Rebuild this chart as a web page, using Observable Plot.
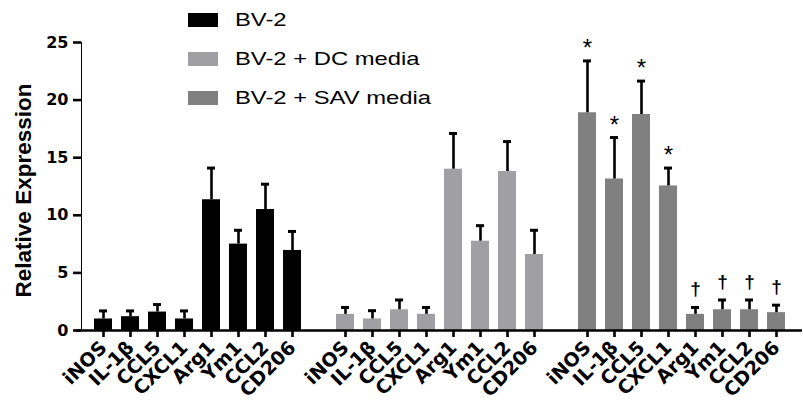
<!DOCTYPE html>
<html><head><meta charset="utf-8">
<script src="https://cdn.jsdelivr.net/npm/d3@7"></script>
<script src="https://cdn.jsdelivr.net/npm/@observablehq/plot@0.6"></script>
<style>
body{margin:0;background:#fff;}
#wrap{position:relative;width:803px;height:405px;overflow:hidden;}
.legend{position:absolute;left:188px;top:0;font-family:"Liberation Sans",Arial,sans-serif;font-size:18.6px;color:#000;}
.row{position:absolute;left:0;height:22px;white-space:nowrap;display:flex;align-items:center;}
.sw{width:30px;height:14px;display:inline-block;}
.lab{display:inline-block;margin-left:17px;transform:scaleX(1.28);transform-origin:left center;}
</style></head><body><div id="wrap"></div>
<script>
const groups = ["BV-2", "BV-2 + DC media", "BV-2 + SAV media"];
const genes = ["iNOS", "IL-1β", "CCL5", "CXCL1", "Arg1", "Ym1", "CCL2", "CD206"];
const colors = ["#000000", "#a0a0a4", "#808080"];
const meanBV2 = [1.0, 1.2, 1.6, 1.0, 11.35, 7.5, 10.5, 6.95];
const errBV2 = [0.7, 0.5, 0.65, 0.7, 2.75, 1.2, 2.2, 1.65];
const meanDC = [1.4, 1.0, 1.8, 1.4, 14.0, 7.75, 13.8, 6.6];
const errDC = [0.6, 0.72, 0.85, 0.6, 3.1, 1.35, 2.6, 2.1];
const meanSAV = [18.9, 13.15, 18.75, 12.55, 1.4, 1.8, 1.8, 1.55];
const errSAV = [4.5, 3.6, 2.9, 1.55, 0.6, 0.85, 0.85, 0.65];
const sigSAV = ["*", "*", "*", "*", "†", "†", "†", "†"];
const yTicks = [0, 5, 10, 15, 20, 25];
const yTitle = "Relative Expression";

const means = [meanBV2, meanDC, meanSAV];
const errs = [errBV2, errDC, errSAV];
const rows = [];
groups.forEach((g, gi) => genes.forEach((gene, i) => {
  rows.push({group: g, gene, mean: means[gi][i], err: errs[gi][i], top: means[gi][i] + errs[gi][i],
    sig: gi === 2 ? sigSAV[i] : ""});
}));
const stars = rows.filter(d => d.sig === "*");
const daggers = rows.filter(d => d.sig === "†");

const chart = Plot.plot({
  width: 803, height: 405,
  marginLeft: 81, marginRight: 5, marginTop: 42, marginBottom: 75,
  style: {fontFamily: "'Liberation Sans', Arial, sans-serif", fontSize: "17px", fontWeight: "bold", color: "#000", background: "#fff"},
  fx: {domain: groups, axis: null, paddingInner: 0.041, paddingOuter: 0},
  x: {domain: genes, paddingInner: 0.34, paddingOuter: 0.32, tickRotate: -45, tickSize: 7, tickPadding: 7, label: null},
  y: {domain: [0, 25], ticks: yTicks, tickSize: 8, tickPadding: 5, label: yTitle, labelAnchor: "center", labelArrow: "none", labelOffset: 66, line: true},
  color: {domain: groups, range: colors},
  marks: [
    Plot.barY(rows, {fx: "group", x: "gene", y: "mean", fill: "group"}),
    Plot.ruleX(rows, {fx: "group", x: "gene", y1: "mean", y2: "top", strokeWidth: 2.6}),
    Plot.tickY(rows, {fx: "group", x: "gene", y: "top", strokeWidth: 3, insetLeft: 5, insetRight: 5}),
    Plot.ruleY([0], {strokeWidth: 2.6, insetLeft: -5, insetRight: -5}),
    Plot.text(stars, {fx: "group", x: "gene", y: "top", text: "sig", lineAnchor: "bottom", dy: -5, fontSize: 24, fontWeight: "normal"}),
    Plot.text(daggers, {fx: "group", x: "gene", y: "top", text: "sig", lineAnchor: "bottom", dy: -12, fontSize: 19, fontWeight: "bold"})
  ]
});

const svg = d3.select(chart);
svg.selectAll('g[aria-label="x-axis tick"], g[aria-label="y-axis tick"]').attr("stroke-width", 2.6);
svg.selectAll('g[aria-label^="y-axis line"], g[aria-label="y-axis"] line').attr("stroke-width", 2.6);
const tickSet = new Set(yTicks.map(String));
const geneSet = new Set(genes);
svg.selectAll("text").each(function () {
  const t = this.textContent.trim();
  const s = d3.select(this);
  if (tickSet.has(t)) s.style("font-size", "16px").style("font-family", "'DejaVu Sans'");
  else if (geneSet.has(t)) s.style("font-size", "19px").style("font-family", "'DejaVu Sans'");
  else if (t.startsWith("Relative")) { s.style("font-size", "22.5px").attr("x", -4); this.textContent = yTitle; }
});

const wrap = document.getElementById("wrap");
wrap.appendChild(chart);

const legend = document.createElement("div");
legend.className = "legend";
const centers = [20, 59, 98];
groups.forEach((g, i) => {
  const row = document.createElement("div");
  row.className = "row";
  row.style.top = (centers[i] - 11) + "px";
  const sw = document.createElement("span");
  sw.className = "sw";
  sw.style.background = colors[i];
  const lab = document.createElement("span");
  lab.className = "lab";
  lab.textContent = g;
  row.appendChild(sw); row.appendChild(lab);
  legend.appendChild(row);
});
wrap.appendChild(legend);
</script></body></html>
